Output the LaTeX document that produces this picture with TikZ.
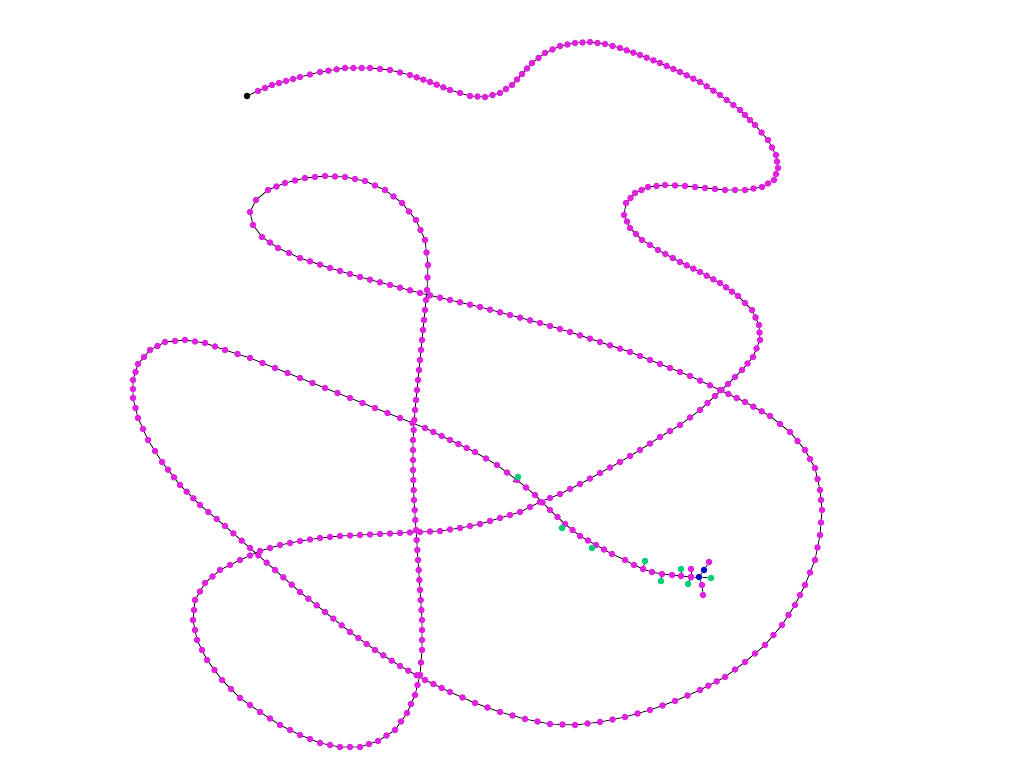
\documentclass[tikz,border=0pt]{standalone}
\usepackage{xcolor}
\usepackage{tikz}
\definecolor{residue}{RGB}{222,34,222}
\definecolor{sidechain}{RGB}{0,206,120}
\definecolor{terminal}{RGB}{12,12,200}
\tikzset{
  atom/.style={
    circle,
    inner sep=0pt,
    minimum size=6.6pt,
    fill=residue
  },
  bond/.style={
    line width=0.8pt,
    black
  }
}
% backbone trace, after the first residue at (247,96): tight part
\def\traceA{258/91, 272/85, 286/81, 300/77, 320/72, 345/68, 370/68, 390/70,
  410/75, 430/82, 450/90, 470/96, 485/97, 500/93, 512/85, 522/74,
  532/63, 545/53, 560/46, 575/43, 590/42, 605/44, 620/48, 640/55,
  660/63, 680/72, 700/82, 720/95, 740/110, 755/125, 768/140, 776/155,
  778/168, 774/180, 762/187, 745/190, 725/190, 705/188, 685/186, 665/185,
  648/187, 635/193, 626/203, 624/215, 630/228, 642/240, 658/250, 680/262,
  700/272, 720/283, 738/296, 752/310, 759/325, 760/340, 753/357, 742/370}
% loose part
\def\traceB{728/384, 715/396, 700/410, 680/425, 660/437, 640/450, 620/462, 600/473,
  580/484, 560/494, 540/502, 520/512, 500/518, 480/524, 460/528, 440/531,
  420/532, 400/533, 380/534, 360/535, 340/536, 320/538, 300/541, 280/545,
  260/551, 240/560, 220/570, 205/583, 195/600, 193/620, 197/640, 207/660,
  222/680, 240/698, 260/712, 280/725, 300/735, 320/743, 340/747, 360/747,
  378/741, 395/730, 407/713, 415/695, 420/675, 422/650, 422/620, 420/590,
  418/560, 416/530, 414/500, 413/470, 413/440, 415/410, 418/380, 421/350,
  424/320, 427/290, 428/265, 425/240, 416/220, 402/203, 385/190, 365/181,
  345/177, 325/176, 305/178, 285/183, 268/190, 256/200, 250/212, 253/225,
  262/237, 278/248, 300/258, 330/268, 360/277, 390/285, 420/293, 450/300,
  480/307, 510/315, 540/323, 570/332, 600/342, 630/352, 660/364, 690/376,
  720/390, 745/402, 770/416, 790/432, 805/450, 815/468, 820/490, 822/510,
  820/535, 815/560, 805/585, 795/605, 782/625, 765/645, 745/662, 725/677,
  700/690, 675/701, 650/710, 625/717, 600/722, 575/725, 550/724, 525/719,
  500/712, 475/703, 450/692, 425/680, 400/666, 375/650, 350/632, 325/612,
  300/592, 275/570, 250/548, 225/526, 200/505, 180/485, 162/462, 148/440,
  138/418, 133/398, 133/380, 138/364, 150/350, 165/342, 185/340, 205/343,
  225/350, 250/358, 275/368, 300/378, 325/388, 350/398, 375/408, 400/418,
  425/428, 450/440, 475/452, 497/465, 517/480, 535/495, 550/510, 565/524,
  580/536, 596/545, 612/554, 625/560, 634/565, 643/569, 652/572, 662/574,
  672/575, 681/576, 691/577}

\begin{document}
\begin{tikzpicture}[x=1pt,y=-1pt]
\useasboundingbox (0,0) rectangle (1024,768);

% Anchor points on the backbone
\coordinate (r1) at (513,482);
\coordinate (r2) at (567,522);
\coordinate (r3) at (596,545);
\coordinate (r4) at (643,569);
\coordinate (r5) at (662,574);
\coordinate (r6) at (681,576);
\coordinate (r7) at (691,577);

% Side chains
\coordinate (s1) at (518,477);
\coordinate (s2) at (562,528);
\coordinate (s3) at (592,548);
\coordinate (s4) at (645,561);
\coordinate (s5) at (661,581);
\coordinate (s6) at (681,569);
\coordinate (s7) at (688,584);
\coordinate (h2) at (691,569);
\draw [bond] (r1) -- (s1);
\draw [bond] (r2) -- (s2);
\draw [bond] (r3) -- (s3);
\draw [bond] (r4) -- (s4);
\draw [bond] (r5) -- (s5);
\draw [bond] (r6) -- (s6);
\draw [bond] (r7) -- (s7);
\draw [bond] (r7) -- (h2);

% Backbone
\draw [bond, line join=round] (247,96) \foreach \x/\y in \traceA {-- (\x,\y)}
  \foreach \x/\y in \traceB {-- (\x,\y)};
\foreach \x/\y [remember=\x as \px (initially 247), remember=\y as \py (initially 96)] in \traceA {
  \pgfmathsetmacro\dist{veclen(\x-\px,\y-\py)}
  \pgfmathtruncatemacro\n{max(1,round(\dist/8.4))}
  \foreach \k in {1,...,\n}
    \fill [residue] ({\px+(\x-\px)*\k/\n},{\py+(\y-\py)*\k/\n}) circle (3.3pt);
}
\foreach \x/\y [remember=\x as \px (initially 742), remember=\y as \py (initially 370)] in \traceB {
  \pgfmathsetmacro\dist{veclen(\x-\px,\y-\py)}
  \pgfmathtruncatemacro\n{max(1,round(\dist/11))}
  \foreach \k in {1,...,\n}
    \fill [residue] ({\px+(\x-\px)*\k/\n},{\py+(\y-\py)*\k/\n}) circle (3.3pt);
}

% Nodes
\node (start) [atom, fill=black] at (247,96) {};
\node (last) [atom] at (r7) {};
\node (ca) [atom, fill=terminal] at (699,577) {};
\node (n1) [atom, fill=terminal] at (704,570) {};
\node (h1) [atom] at (709,562) {};
\node (cb) [atom, fill=sidechain] at (711,578) {};
\node (c1) [atom] at (702,585) {};
\node (o1) [atom] at (703,595) {};

% Bonds
\draw [bond] (last) -- (ca);
\draw [bond] (ca) -- (n1);
\draw [bond] (n1) -- (h1);
\draw [bond] (ca) -- (cb);
\draw [bond] (ca) -- (c1);
\draw [bond] (c1) -- (o1);

% Side chain atoms on top
\node (g1) [atom, fill=sidechain] at (s1) {};
\node (g2) [atom, fill=sidechain] at (s2) {};
\node (g3) [atom, fill=sidechain] at (s3) {};
\node (g4) [atom, fill=sidechain] at (s4) {};
\node (g5) [atom, fill=sidechain] at (s5) {};
\node (g6) [atom, fill=sidechain] at (s6) {};
\node (g7) [atom, fill=sidechain] at (s7) {};
\node (hb) [atom] at (h2) {};
\end{tikzpicture}
\end{document}
